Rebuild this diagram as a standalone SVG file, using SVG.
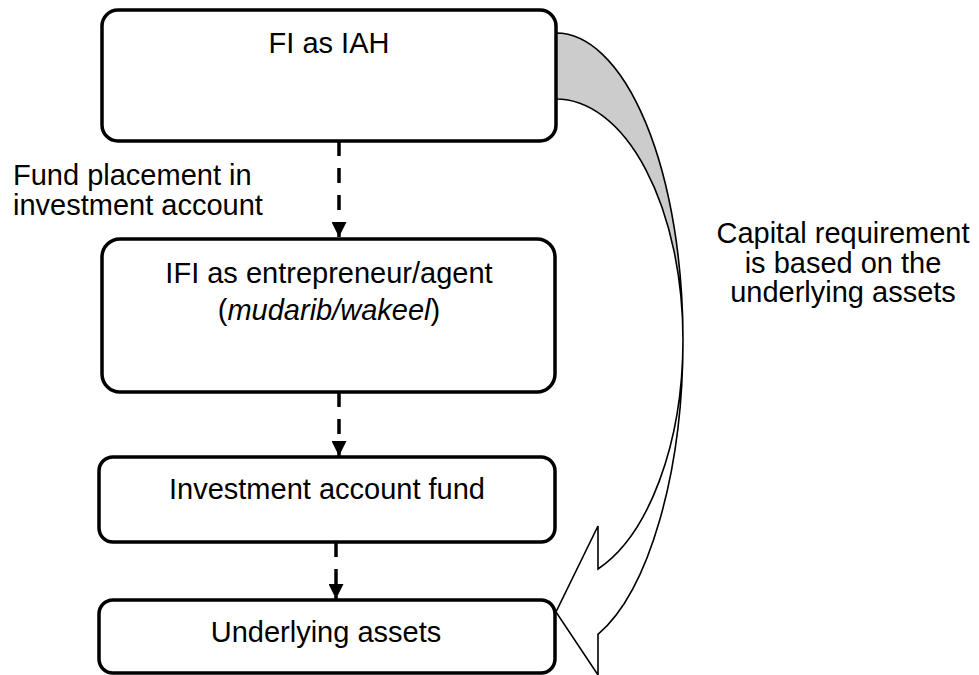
<svg xmlns="http://www.w3.org/2000/svg" width="979" height="675" viewBox="0 0 979 675">
<defs>
<style>
.box{fill:#fff;stroke:#000;stroke-width:3.5}
.t{font-family:"Liberation Sans",Arial,sans-serif;font-size:29px;fill:#000}
.c{text-anchor:middle}
.conn{stroke:#000;stroke-width:3.5;fill:none;stroke-dasharray:15 12}
.ca{stroke:#000;stroke-width:1.6;stroke-linejoin:miter}
</style>
<marker id="ah" viewBox="0 0 10 10" refX="10" refY="5" markerUnits="userSpaceOnUse" markerWidth="15" markerHeight="15" orient="auto">
<path d="M0,0 L10,5 L0,10 Z" fill="#000"/>
</marker>
</defs>
<rect width="979" height="675" fill="#fff"/>
<g id="curved-arrow">
<path class="ca" fill="#cccccc" d="M556,33 A127,307 0 0 1 683,340 A127,241 0 0 0 556,99 Z"/>
<path class="ca" fill="#fff" d="M683,340 A127,312 0 0 1 598,634.4 L598,675 L556,612 L598,526 L598,569 A127,243 0 0 0 683,340 Z"/>
</g>
<g id="n1">
<rect class="box" x="102" y="10" width="454" height="131" rx="16"/>
<text class="t c" x="329" y="53">FI as IAH</text>
</g>
<g id="n2">
<rect class="box" x="102" y="239" width="453" height="153" rx="18"/>
<text class="t c" x="329" y="283">IFI as entrepreneur/agent</text>
<text class="t c" x="329" y="320">(<tspan font-style="italic">mudarib/wakeel</tspan>)</text>
</g>
<g id="n3">
<rect class="box" x="99" y="457" width="456" height="85" rx="14"/>
<text class="t c" x="327" y="499">Investment account fund</text>
</g>
<g id="n4">
<rect class="box" x="99" y="600" width="456" height="73" rx="14"/>
<text class="t c" x="326" y="642">Underlying assets</text>
</g>
<g id="connectors">
<path class="conn" d="M339,141 V237" marker-end="url(#ah)"/>
<path class="conn" d="M339,392 V456" marker-end="url(#ah)"/>
<path class="conn" d="M336,542 V599" marker-end="url(#ah)"/>
</g>
<g id="labels">
<text class="t" x="13" y="185">Fund placement in</text>
<text class="t" x="13" y="215">investment account</text>
<text class="t c" x="843" y="243">Capital requirement</text>
<text class="t c" x="843" y="273">is based on the</text>
<text class="t c" x="843" y="302">underlying assets</text>
</g>
</svg>
